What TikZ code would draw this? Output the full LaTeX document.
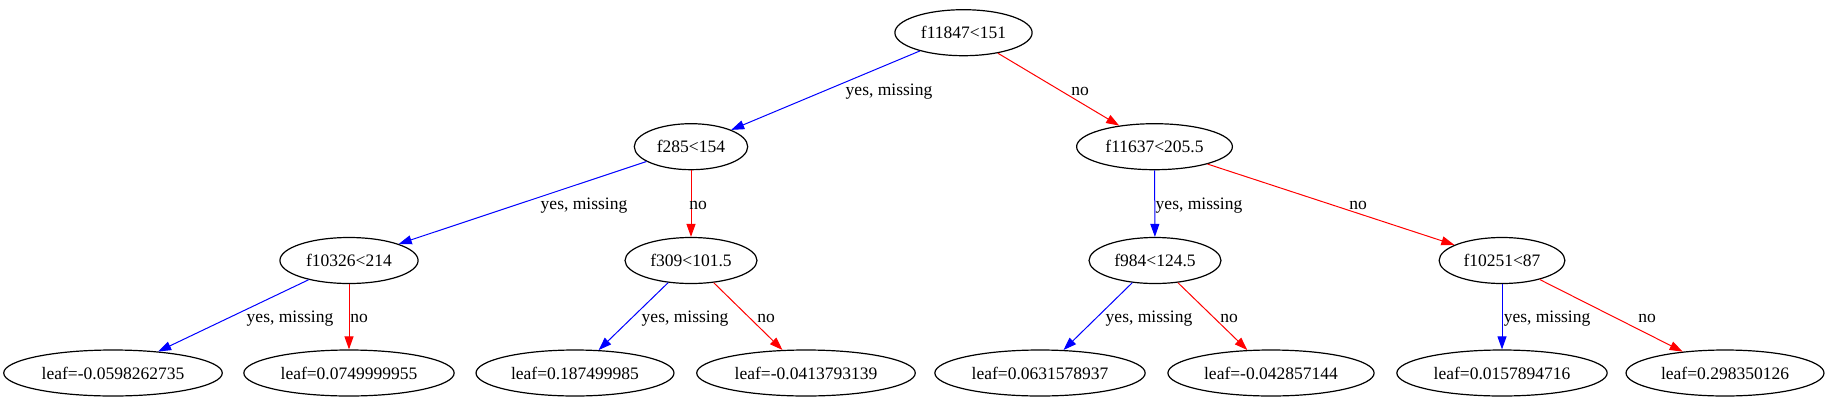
\documentclass[tikz,border=0pt]{standalone}
\usepackage{fontspec}
\setmainfont{Liberation Serif}
\usetikzlibrary{shapes.geometric, arrows.meta}
\begin{document}
\begin{tikzpicture}[x=1pt, y=-1pt,
    split/.style={ellipse, draw, line width=1.2pt, inner xsep=6pt, minimum height=46pt},
    edge yes/.style={-{Triangle[length=13pt, width=9pt]}, blue, line width=1pt},
    edge no/.style={-{Triangle[length=13pt, width=9pt]}, red, line width=1pt},
    lbl/.style={anchor=base, inner sep=0pt},
    every node/.style={font=\fontsize{17.5}{21}\selectfont}
]
    \useasboundingbox (0,0) rectangle (1834,410);

    % splits
    \node[split] (root)   at (963.5,32.7) {f11847<151};
    \node[split] (n285)   at (691,146.7)  {f285<154};
    \node[split] (n11637) at (1154.5,146.7) {f11637<205.5};
    \node[split] (n10326) at (349,260.5)  {f10326<214};
    \node[split] (n309)   at (691,260.5)  {f309<101.5};
    \node[split] (n984)   at (1155,260.5) {f984<124.5};
    \node[split] (n10251) at (1502,260.5) {f10251<87};

    % leaves
    \node[split] (l1) at (113,373)  {leaf=-0.0598262735};
    \node[split] (l2) at (349,373)  {leaf=0.0749999955};
    \node[split] (l3) at (575,373)  {leaf=0.187499985};
    \node[split] (l4) at (806,373)  {leaf=-0.0413793139};
    \node[split] (l5) at (1040,373) {leaf=0.0631578937};
    \node[split] (l6) at (1271,373) {leaf=-0.042857144};
    \node[split] (l7) at (1502,373) {leaf=0.0157894716};
    \node[split] (l8) at (1725,373) {leaf=0.298350126};

    % branches
    \draw[edge yes] (root) -- (n285);
    \draw[edge no]  (root) -- (n11637);
    \draw[edge yes] (n285) -- (n10326);
    \draw[edge no]  (n285) -- (n309);
    \draw[edge yes] (n11637) -- (n984);
    \draw[edge no]  (n11637) -- (n10251);
    \draw[edge yes] (n10326) -- (l1);
    \draw[edge no]  (n10326) -- (l2);
    \draw[edge yes] (n309) -- (l3);
    \draw[edge no]  (n309) -- (l4);
    \draw[edge yes] (n984) -- (l5);
    \draw[edge no]  (n984) -- (l6);
    \draw[edge yes] (n10251) -- (l7);
    \draw[edge no]  (n10251) -- (l8);

    % branch labels
    \node[lbl] (t1)  at (889,95.5)  {yes, missing};
    \node[lbl] (t2)  at (1080,95.5) {no};
    \node[lbl] (t3)  at (584,209)   {yes, missing};
    \node[lbl] (t4)  at (698,209)   {no};
    \node[lbl] (t5)  at (1199,209)  {yes, missing};
    \node[lbl] (t6)  at (1358,209)  {no};
    \node[lbl] (t7)  at (290,322.5)  {yes, missing};
    \node[lbl] (t8)  at (359,322.5)  {no};
    \node[lbl] (t9)  at (685,322.5)  {yes, missing};
    \node[lbl] (t10) at (766,322.5)  {no};
    \node[lbl] (t11) at (1149,322.5) {yes, missing};
    \node[lbl] (t12) at (1229,322.5) {no};
    \node[lbl] (t13) at (1547,322.5) {yes, missing};
    \node[lbl] (t14) at (1647,322.5) {no};
\end{tikzpicture}
\end{document}
